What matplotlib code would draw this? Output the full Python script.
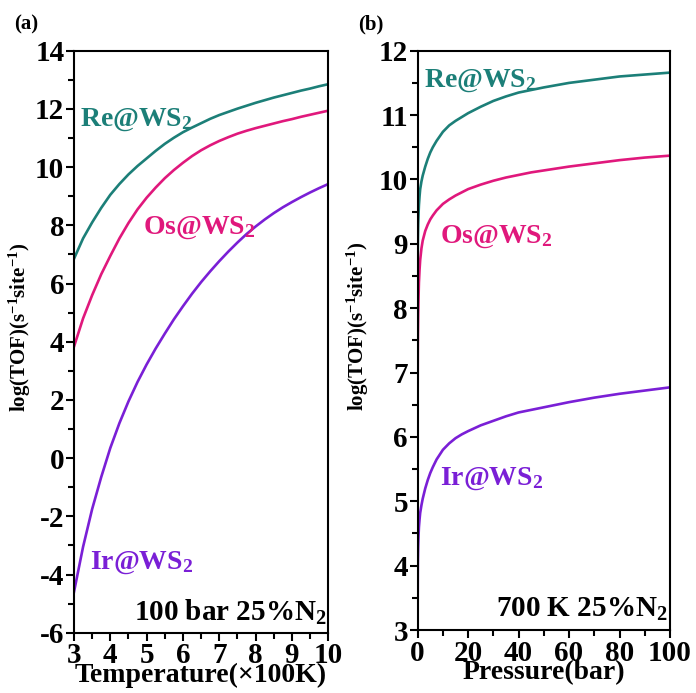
import matplotlib
matplotlib.use('Agg')
import matplotlib.pyplot as plt
from matplotlib.ticker import MultipleLocator

# Fonts: Times-like bold everywhere
plt.rcParams['font.family'] = ['Liberation Serif', 'DejaVu Serif']
plt.rcParams['font.weight'] = 'bold'
plt.rcParams['mathtext.fontset'] = 'custom'
plt.rcParams['mathtext.rm'] = 'Liberation Serif:bold'
plt.rcParams['mathtext.it'] = 'Liberation Serif:italic:bold'
plt.rcParams['mathtext.bf'] = 'Liberation Serif:bold'
plt.rcParams['axes.unicode_minus'] = False

# Colours
c_re = '#1c7f78'
c_os = '#e0187c'
c_ir = '#7a1fd6'

# (a) log(TOF) vs temperature (x100 K), 100 bar, 25% N2
temp = [3.0, 3.25, 3.5, 3.75, 4.0, 4.25, 4.5, 4.75, 5.0, 5.25, 5.5, 5.75, 6.0, 6.25, 6.5,
        6.75, 7.0, 7.25, 7.5, 7.75, 8.0, 8.25, 8.5, 8.75, 9.0, 9.25, 9.5, 9.75, 10.0]
re_t = [6.85, 7.55, 8.1, 8.6, 9.05, 9.42, 9.75, 10.04, 10.3, 10.56, 10.8, 11.01, 11.2, 11.36, 11.51,
        11.66, 11.79, 11.9, 12.01, 12.11, 12.21, 12.3, 12.39, 12.47, 12.55, 12.63, 12.7, 12.78, 12.85]
os_t = [3.83, 4.8, 5.6, 6.32, 6.95, 7.55, 8.08, 8.55, 8.95, 9.3, 9.62, 9.9, 10.15, 10.38, 10.58,
        10.75, 10.9, 11.03, 11.15, 11.25, 11.34, 11.42, 11.5, 11.58, 11.65, 11.73, 11.8, 11.87, 11.94]
ir_t = [-4.6, -3.05, -1.75, -0.65, 0.35, 1.2, 1.95, 2.62, 3.22, 3.77, 4.28, 4.77, 5.22, 5.65, 6.05,
        6.42, 6.77, 7.1, 7.41, 7.7, 7.96, 8.2, 8.42, 8.62, 8.8, 8.97, 9.13, 9.28, 9.42]

# (b) log(TOF) vs pressure (bar), 700 K, 25% N2
pres = [0, 0.02, 0.05, 0.1, 0.2, 0.35, 0.5, 0.75, 1, 1.5, 2, 3, 4, 5, 6, 7.5, 10, 12.5, 15, 17.5,
        20, 25, 30, 35, 40, 45, 50, 60, 70, 80, 90, 100]
re_p = [8.35, 8.6, 8.9, 9.1, 9.3, 9.47, 9.6, 9.74, 9.85, 9.97, 10.06, 10.2, 10.32, 10.42, 10.5, 10.6,
        10.74, 10.84, 10.91, 10.97, 11.03, 11.13, 11.22, 11.29, 11.35, 11.39, 11.43, 11.5, 11.55,
        11.6, 11.63, 11.66]
os_p = [6.65, 7.0, 7.3, 7.6, 7.9, 8.17, 8.4, 8.6, 8.75, 8.93, 9.05, 9.2, 9.3, 9.38, 9.44, 9.52,
        9.62, 9.69, 9.75, 9.8, 9.85, 9.92, 9.98, 10.03, 10.07, 10.11, 10.14, 10.2, 10.25,
        10.3, 10.34, 10.37]
ir_p = [3.35, 3.6, 3.9, 4.1, 4.3, 4.47, 4.6, 4.72, 4.82, 4.94, 5.04, 5.2, 5.33, 5.44, 5.53, 5.65,
        5.8, 5.9, 5.98, 6.04, 6.09, 6.18, 6.25, 6.32, 6.38, 6.42, 6.46, 6.54, 6.61,
        6.67, 6.72, 6.77]

fig = plt.figure(figsize=(6.96, 6.93), dpi=100)
ax1 = fig.add_axes([0.1063, 0.0870, 0.3654, 0.8398])
ax2 = fig.add_axes([0.6001, 0.0909, 0.3625, 0.8359])

lw = 1.9
ax1.plot(temp, re_t, color=c_re, lw=lw)
ax1.plot(temp, os_t, color=c_os, lw=lw)
ax1.plot(temp, ir_t, color=c_ir, lw=lw)

ax2.plot(pres, ir_p, color=c_ir, lw=lw)
ax2.plot(pres, os_p, color=c_os, lw=lw)
ax2.plot(pres, re_p, color=c_re, lw=lw)

ax1.set_xlim(3, 10)
ax1.set_ylim(-6, 14)
ax1.xaxis.set_major_locator(MultipleLocator(1))
ax1.xaxis.set_minor_locator(MultipleLocator(0.5))
ax1.yaxis.set_major_locator(MultipleLocator(2))
ax1.yaxis.set_minor_locator(MultipleLocator(1))

ax2.set_xlim(0, 100)
ax2.set_ylim(3, 12)
ax2.xaxis.set_major_locator(MultipleLocator(20))
ax2.xaxis.set_minor_locator(MultipleLocator(10))
ax2.yaxis.set_major_locator(MultipleLocator(1))
ax2.yaxis.set_minor_locator(MultipleLocator(0.5))

lab_fs = 21
ylab = r'log(TOF)(s$^{-1}$site$^{-1}$)'
for ax in (ax1, ax2):
    for s in ax.spines.values():
        s.set_linewidth(1.5)
    ax.tick_params(which='major', direction='out', length=6, width=1.5,
                   labelsize=lab_fs, top=False, right=False, pad=1)
    ax.tick_params(which='minor', direction='out', length=4, width=1.5,
                   top=False, right=False)
    ax.set_ylabel(ylab, fontsize=15, fontweight='bold')

ax1.yaxis.set_label_coords(-0.163, 0.525)
ax2.yaxis.set_label_coords(-0.183, 0.525)

ax1.set_xlabel(u'Temperature(\u00d7100K)', fontsize=20, fontweight='bold', labelpad=-5)
ax2.set_xlabel('Pressure(bar)', fontsize=20, fontweight='bold', labelpad=-5)

# Curve labels
tfs = 20
ax1.text(0.024, 0.881, r'Re@WS$_2$', color=c_re, fontsize=tfs, transform=ax1.transAxes, va='center')
ax1.text(0.271, 0.695, r'Os@WS$_2$', color=c_os, fontsize=tfs, transform=ax1.transAxes, va='center')
ax1.text(0.063, 0.120, r'Ir@WS$_2$', color=c_ir, fontsize=tfs, transform=ax1.transAxes, va='center')
ax1.text(0.995, 0.035, r'100 bar 25%N$_2$', color='black', fontsize=21, transform=ax1.transAxes,
         ha='right', va='center')

ax2.text(0.025, 0.949, r'Re@WS$_2$', color=c_re, fontsize=tfs, transform=ax2.transAxes, va='center')
ax2.text(0.088, 0.679, r'Os@WS$_2$', color=c_os, fontsize=tfs, transform=ax2.transAxes, va='center')
ax2.text(0.088, 0.262, r'Ir@WS$_2$', color=c_ir, fontsize=tfs, transform=ax2.transAxes, va='center')
ax2.text(0.992, 0.035, r'700 K 25%N$_2$', color='black', fontsize=21, transform=ax2.transAxes,
         ha='right', va='center')

fig.text(0.020, 0.964, '(a)', fontsize=15, fontweight='bold', va='center')
fig.text(0.514, 0.964, '(b)', fontsize=15, fontweight='bold', va='center')

fig.savefig('out.png', dpi=100, facecolor='white')
